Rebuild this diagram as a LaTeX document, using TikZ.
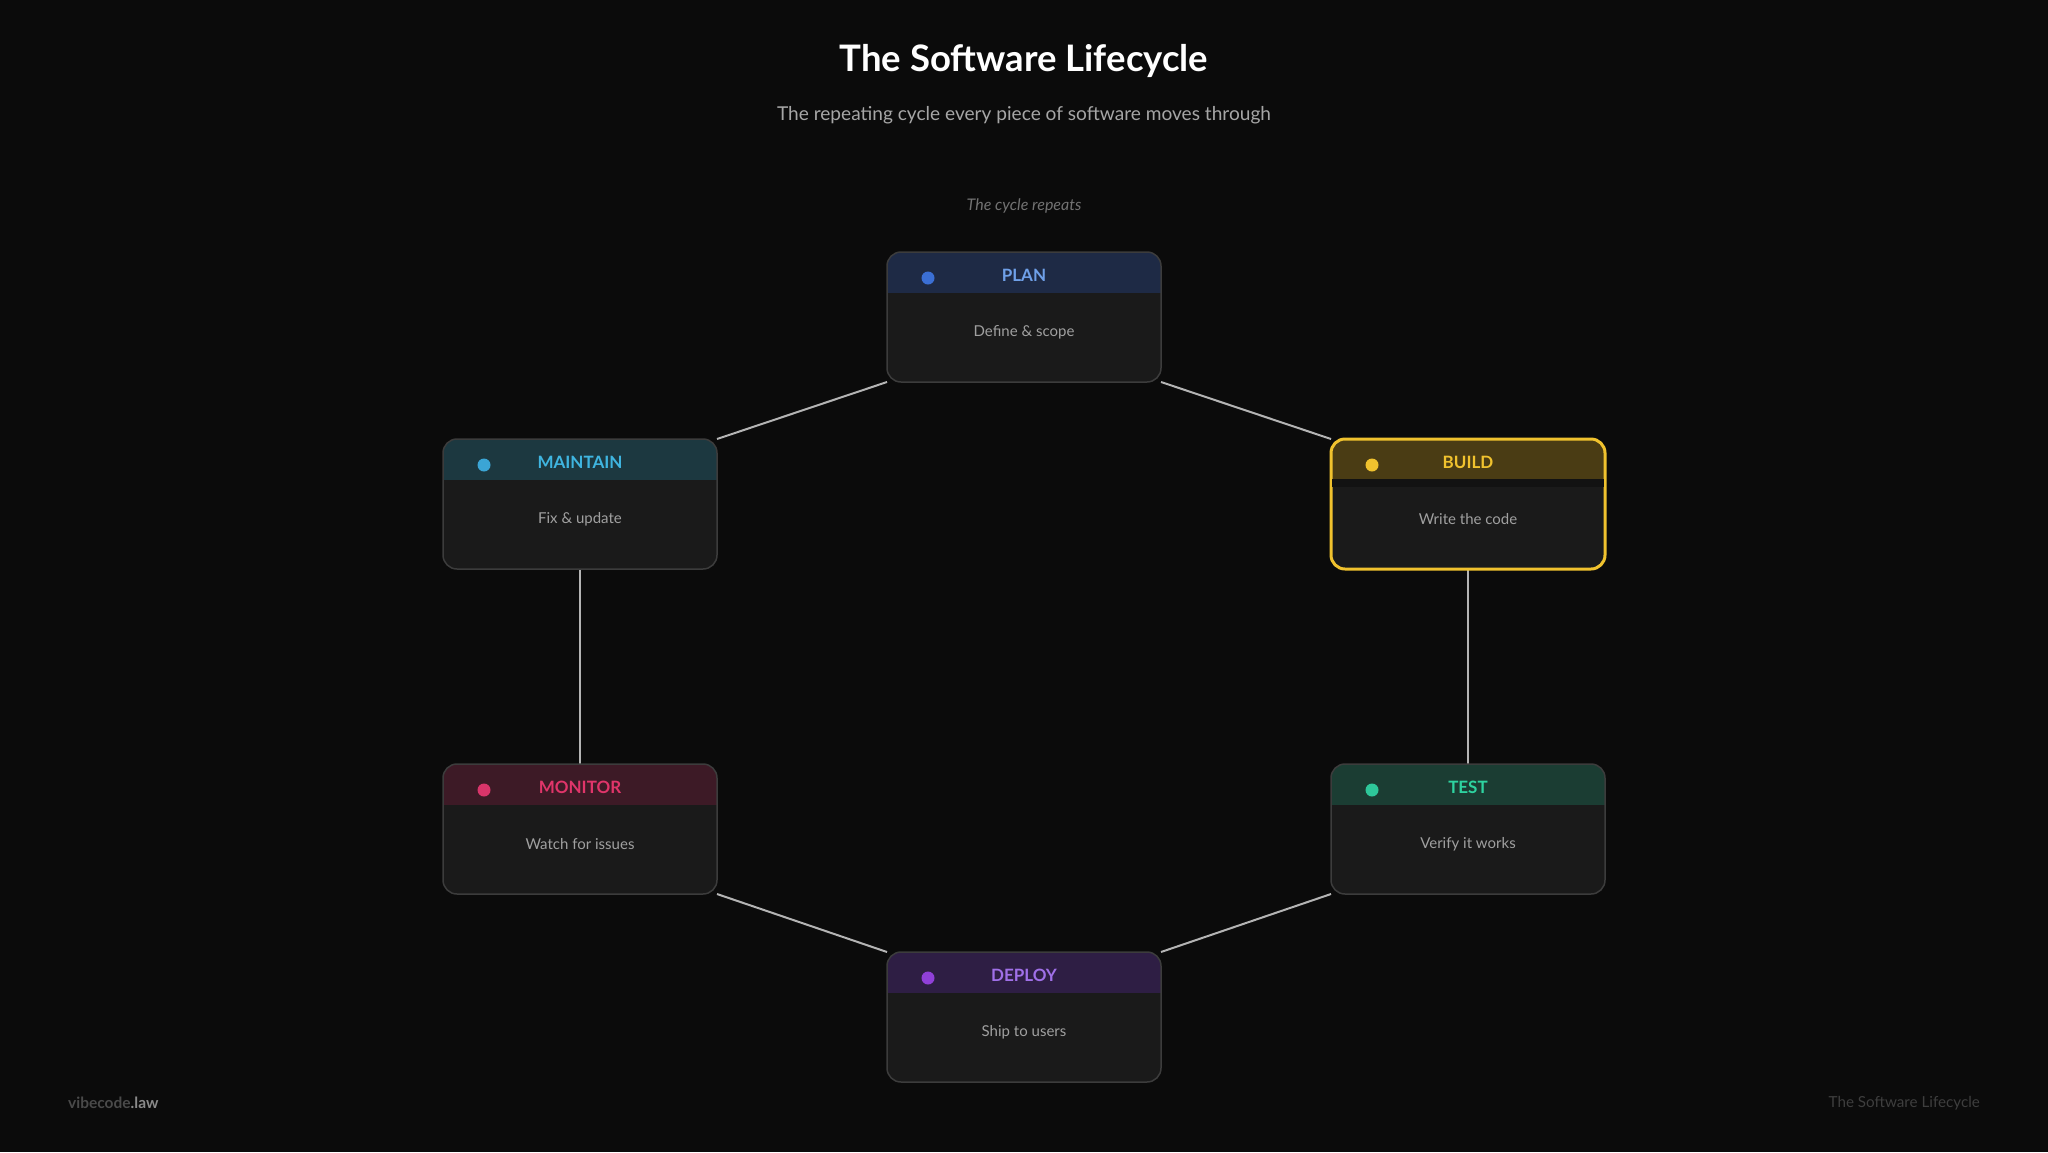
\documentclass[tikz,border=0pt]{standalone}
\usepackage{fontspec}
\setmainfont{Lato}
\pgfdeclarelayer{bgl}
\pgfdeclarelayer{edgel}
\pgfsetlayers{bgl,edgel,main}
\definecolor{bgc}{HTML}{0B0B0B}
\definecolor{bodyc}{HTML}{1A1A1A}
\definecolor{borderc}{HTML}{3C3C3C}
\definecolor{linec}{HTML}{B4B4B4}
\definecolor{subc}{HTML}{A6A6A6}
\definecolor{descc}{HTML}{A0A0A0}
\definecolor{notec}{HTML}{727272}
\definecolor{footdim}{HTML}{4A4A4A}
\definecolor{footbright}{HTML}{8A8A8A}
\definecolor{footright}{HTML}{3E3E3E}
% stage colours
\definecolor{planh}{HTML}{1E2A45}\definecolor{plana}{HTML}{6FA0E8}\definecolor{pland}{HTML}{3B6FD4}
\definecolor{mainh}{HTML}{1C3840}\definecolor{maina}{HTML}{3FB5E0}\definecolor{maind}{HTML}{3BA5D5}
\definecolor{buildh}{HTML}{4A3C14}\definecolor{builda}{HTML}{F0C22E}\definecolor{buildd}{HTML}{F0C22E}
\definecolor{monh}{HTML}{3D1A26}\definecolor{mona}{HTML}{E0356A}\definecolor{mond}{HTML}{D8356A}
\definecolor{testh}{HTML}{1B3D33}\definecolor{testa}{HTML}{2ED3A0}\definecolor{testd}{HTML}{2EC79A}
\definecolor{deph}{HTML}{2E1E44}\definecolor{depa}{HTML}{A070E8}\definecolor{depd}{HTML}{9040D8}
\tikzset{
  stagebox/.style={rectangle, rounded corners=14pt, minimum width=274pt, minimum height=130pt,
    inner sep=0pt, outer sep=0pt, fill=bodyc},
  normalborder/.style={draw=borderc, line width=1.5pt},
  hotborder/.style={draw=builda, line width=3pt},
  conn/.style={draw=linec, line width=2pt},
  headlabel/.style={font=\bfseries\fontsize{17}{20}\selectfont, inner sep=0pt},
  desclabel/.style={font=\fontsize{15}{18}\selectfont, text=descc, inner sep=0pt},
}
% name, x, y, label, desc, header fill, accent text, dot, border style
\newcommand\mystage[9]{%
  \node[stagebox] (#1) at (#2,#3) {};
  \begin{scope}
    \clip (#2-145,#3-72) rectangle (#2+145,#3-25);
    \fill[#6, rounded corners=14pt] (#1.north west) rectangle (#1.south east);
  \end{scope}
  \draw[#9, rounded corners=14pt] (#1.north west) rectangle (#1.south east);
  \fill[#8] (#2-96,#3-39) circle (6.5pt);
  \node[headlabel, text=#7] (#1-t) at (#2,#3-42) {#4};
  \node[desclabel] (#1-d) at (#2,#3+15) {#5};
}
\begin{document}
\begin{tikzpicture}[x=1pt,y=-1pt]
\begin{pgfonlayer}{bgl}
  \fill[bgc] (0,0) rectangle (2048,1152);
\end{pgfonlayer}
\useasboundingbox (0,0) rectangle (2048,1152);

\node[font=\bfseries\fontsize{36.5}{40}\selectfont, text=white, inner sep=0pt] (title) at (1024,61) {The Software Lifecycle};
\node[font=\fontsize{19.1}{22}\selectfont, text=subc, inner sep=0pt] (subtitle) at (1024,115) {The repeating cycle every piece of software moves through};
\node[font=\itshape\fontsize{16}{18}\selectfont, text=notec, inner sep=0pt] (note) at (1024,206) {The cycle repeats};

\mystage{plan}{1024}{317}{PLAN}{Define \& scope}{planh}{plana}{pland}{normalborder}
\mystage{maintain}{580}{504}{MAINTAIN}{Fix \& update}{mainh}{maina}{maind}{normalborder}
\mystage{build}{1468}{504}{BUILD}{Write the code}{buildh}{builda}{buildd}{hotborder}
\fill[bodyc!70!black] (1468-136,504-25) rectangle (1468+136,504-17);
\mystage{monitor}{580}{829}{MONITOR}{Watch for issues}{monh}{mona}{mond}{normalborder}
\mystage{test}{1468}{829}{TEST}{Verify it works}{testh}{testa}{testd}{normalborder}
\mystage{deploy}{1024}{1017}{DEPLOY}{Ship to users}{deph}{depa}{depd}{normalborder}

\begin{pgfonlayer}{edgel}
  \draw[conn] (plan.south east) -- (build.north west);
  \draw[conn] (build.south) -- (test.north);
  \draw[conn] (test.south west) -- (deploy.north east);
  \draw[conn] (deploy.north west) -- (monitor.south east);
  \draw[conn] (monitor.north) -- (maintain.south);
  \draw[conn] (maintain.north east) -- (plan.south west);
\end{pgfonlayer}

\node[font=\bfseries\fontsize{15.5}{18}\selectfont, anchor=west, inner sep=0pt] (brand) at (68,1103) {\textcolor{footdim}{vibecode}\textcolor{footbright}{.law}};
\node[font=\fontsize{15.2}{18}\selectfont, text=footright, anchor=east, inner sep=0pt] (foot) at (1980,1103) {The Software Lifecycle};
\end{tikzpicture}
\end{document}
